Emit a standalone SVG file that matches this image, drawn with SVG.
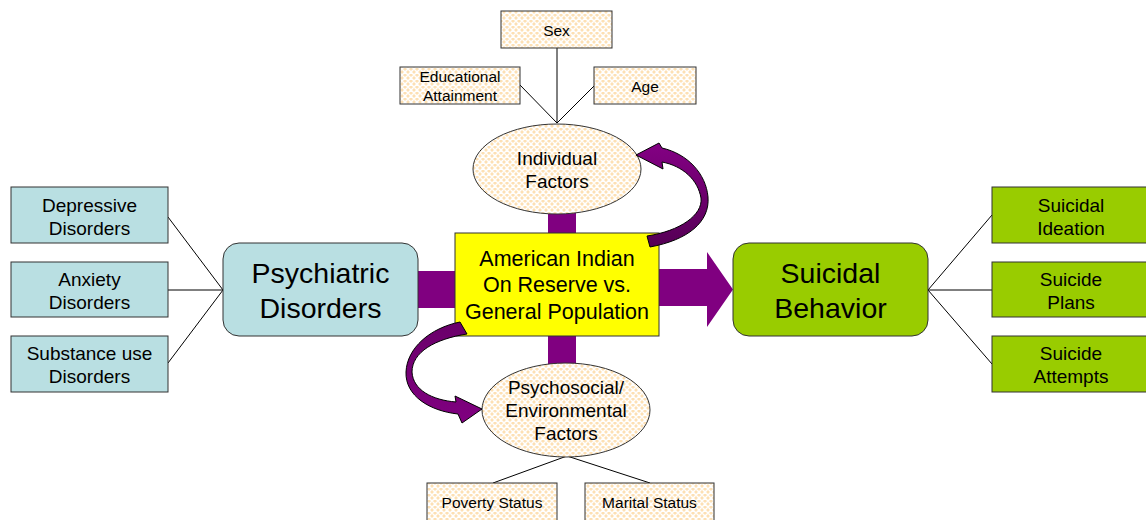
<svg xmlns="http://www.w3.org/2000/svg" width="1146" height="520" viewBox="0 0 1146 520">
  <defs>
    <pattern id="lattice" width="6" height="6" patternUnits="userSpaceOnUse">
      <rect width="6" height="6" fill="#FDE0B4"/>
      <path d="M0 3 L3 0 L6 3 L3 6 Z" fill="none" stroke="#FFFFFF" stroke-width="1.5"/>
    </pattern>
    <linearGradient id="ribbonUp" x1="0" y1="0" x2="0" y2="1">
      <stop offset="0" stop-color="#840084"/>
      <stop offset="1" stop-color="#550055"/>
    </linearGradient>
    <linearGradient id="ribbonDown" x1="0" y1="0" x2="0" y2="1">
      <stop offset="0" stop-color="#6A006A"/>
      <stop offset="1" stop-color="#800080"/>
    </linearGradient>
  </defs>
  <style>
    .txt { font-family: "Liberation Sans", Arial, sans-serif; fill: #000; text-anchor: middle; }
    .s15 { font-size: 15.5px; }
    .s19 { font-size: 19px; }
    .s21 { font-size: 21.5px; }
    .s28 { font-size: 28.5px; }
    .patch { fill: url(#lattice); stroke: #333; stroke-width: 1; }
    .blue { fill: #B9DFE2; stroke: #333; stroke-width: 1; }
    .green { fill: #99CC00; stroke: #333; stroke-width: 1; }
    .link { stroke: #000; stroke-width: 1; fill: none; }
    .band { fill: #800080; }
    .ribbon { stroke: #000; stroke-width: 1; stroke-linejoin: round; }
  </style>

  <rect width="1146" height="520" fill="#FFFFFF"/>

  <!-- connectors: thin tree lines and the purple flow shapes -->
  <g id="connectors">
    <!-- individual factor lines -->
    <line class="link" x1="557" y1="48" x2="557" y2="123"/>
    <line class="link" x1="520" y1="85" x2="557" y2="123"/>
    <line class="link" x1="594" y1="86" x2="557" y2="123"/>
    <!-- psychosocial factor lines -->
    <line class="link" x1="567" y1="456" x2="493" y2="483"/>
    <line class="link" x1="567" y1="456" x2="650" y2="483"/>
    <!-- psychiatric disorder lines -->
    <line class="link" x1="168" y1="217" x2="223" y2="290"/>
    <line class="link" x1="168" y1="290" x2="223" y2="290"/>
    <line class="link" x1="168" y1="363" x2="223" y2="290"/>
    <!-- suicidal behavior lines -->
    <line class="link" x1="928" y1="290" x2="992" y2="215"/>
    <line class="link" x1="928" y1="290" x2="992" y2="290"/>
    <line class="link" x1="928" y1="290" x2="992" y2="364"/>
    <!-- purple bars -->
    <rect class="band" x="548" y="208" width="28" height="28"/>
    <rect class="band" x="548" y="332" width="28" height="34"/>
    <rect class="band" x="416" y="271" width="42" height="37"/>
    <path class="band" d="M656 269 L707 269 L707 252 L733 289.5 L707 327 L707 306 L656 306 Z"/>
  </g>

  <!-- Sex -->
  <g id="node-sex">
    <rect class="patch" x="501" y="11" width="111" height="37"/>
    <text class="txt s15" x="556.5" y="36">Sex</text>
  </g>
  <!-- Educational Attainment -->
  <g id="node-education">
    <rect class="patch" x="400" y="67" width="120" height="37"/>
    <text class="txt s15" x="460" y="82">Educational</text>
    <text class="txt s15" x="460" y="101">Attainment</text>
  </g>
  <!-- Age -->
  <g id="node-age">
    <rect class="patch" x="594" y="67" width="102" height="37"/>
    <text class="txt s15" x="645" y="92">Age</text>
  </g>

  <!-- Individual Factors -->
  <g id="node-individual">
    <ellipse class="patch" cx="557" cy="169" rx="84" ry="45"/>
    <text class="txt s19" x="557" y="165">Individual</text>
    <text class="txt s19" x="557" y="188">Factors</text>
  </g>

  <!-- central population box -->
  <g id="node-population">
    <rect x="455" y="233" width="204" height="103" fill="#FFFF00" stroke="#333" stroke-width="1"/>
    <text class="txt s21" x="557" y="266">American Indian</text>
    <text class="txt s21" x="557" y="292">On Reserve vs.</text>
    <text class="txt s21" x="557" y="319">General Population</text>
  </g>

  <!-- Psychosocial / Environmental Factors -->
  <g id="node-psychosocial">
    <ellipse class="patch" cx="566" cy="410" rx="84" ry="47"/>
    <text class="txt s19" x="566" y="394">Psychosocial/</text>
    <text class="txt s19" x="566" y="417">Environmental</text>
    <text class="txt s19" x="566" y="440">Factors</text>
  </g>

  <!-- Poverty Status -->
  <g id="node-poverty">
    <rect class="patch" x="427" y="483" width="130" height="45"/>
    <text class="txt s15" x="492" y="508">Poverty Status</text>
  </g>
  <!-- Marital Status -->
  <g id="node-marital">
    <rect class="patch" x="585" y="483" width="129" height="45"/>
    <text class="txt s15" x="649.5" y="508">Marital Status</text>
  </g>

  <!-- Psychiatric Disorders -->
  <g id="node-psychiatric">
    <rect class="blue" x="223" y="243" width="195" height="93" rx="16"/>
    <text class="txt s28" x="320.5" y="283">Psychiatric</text>
    <text class="txt s28" x="320.5" y="318">Disorders</text>
  </g>
  <g id="node-depressive">
    <rect class="blue" x="11" y="187" width="157" height="56"/>
    <text class="txt s19" x="89.5" y="212">Depressive</text>
    <text class="txt s19" x="89.5" y="235">Disorders</text>
  </g>
  <g id="node-anxiety">
    <rect class="blue" x="11" y="262" width="157" height="55"/>
    <text class="txt s19" x="89.5" y="286">Anxiety</text>
    <text class="txt s19" x="89.5" y="309">Disorders</text>
  </g>
  <g id="node-substance">
    <rect class="blue" x="11" y="336" width="157" height="56"/>
    <text class="txt s19" x="89.5" y="360">Substance use</text>
    <text class="txt s19" x="89.5" y="383">Disorders</text>
  </g>

  <!-- Suicidal Behavior -->
  <g id="node-suicidal">
    <rect class="green" x="733" y="243" width="195" height="93" rx="16"/>
    <text class="txt s28" x="830.5" y="283">Suicidal</text>
    <text class="txt s28" x="830.5" y="318">Behavior</text>
  </g>
  <g id="node-ideation">
    <rect class="green" x="992" y="187" width="160" height="56"/>
    <text class="txt s19" x="1071" y="212">Suicidal</text>
    <text class="txt s19" x="1071" y="235">Ideation</text>
  </g>
  <g id="node-plans">
    <rect class="green" x="992" y="262" width="160" height="55"/>
    <text class="txt s19" x="1071" y="286">Suicide</text>
    <text class="txt s19" x="1071" y="309">Plans</text>
  </g>
  <g id="node-attempts">
    <rect class="green" x="992" y="336" width="160" height="56"/>
    <text class="txt s19" x="1071" y="360">Suicide</text>
    <text class="txt s19" x="1071" y="383">Attempts</text>
  </g>

  <!-- curved feedback arrows -->
  <g id="feedback-arrows">
    <path class="ribbon" fill="url(#ribbonUp)" d="M650 247 C688 240 710 222 708 197 C706 174 688 154 662 148 L659 143 L636 155 L663 169 L662 162 C683 166 698 180 701 198 C703 215 680 231 647 236 Z"/>
    <path class="ribbon" fill="url(#ribbonDown)" d="M460 322 C430 328 407 348 406 372 C405 396 430 411 458 414 L462 423 L482 409 L455 396 L456 402 C432 400 413 390 412 372 C412 352 435 339 467 334 Z"/>
  </g>
</svg>
